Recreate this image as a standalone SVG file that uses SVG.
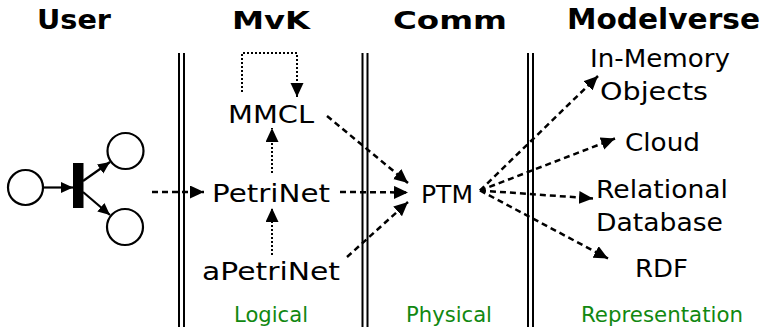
<svg xmlns="http://www.w3.org/2000/svg" width="762" height="327" viewBox="0 0 762 327">
<style>
text{font-family:"DejaVu Sans","Verdana",sans-serif;fill:#000}
.h{font-weight:bold}
.n{font-size:25px}
.g{font-size:21px;fill:#118811}
.sep{stroke:#000;stroke-width:2}
.pl{fill:#fff;stroke:#000;stroke-width:2.2}
.solid{stroke:#000;stroke-width:2.2;fill:none}
.dash{stroke:#000;stroke-width:2.5;fill:none;stroke-dasharray:6,4}
.dot{stroke:#000;stroke-width:2;fill:none;stroke-dasharray:2,2}
</style>
<defs>
<marker id="ah" markerUnits="userSpaceOnUse" markerWidth="16" markerHeight="14" refX="14" refY="6.5" orient="auto">
<path d="M0,0 L14,6.5 L0,13 z" fill="#000"/>
</marker>
<marker id="ahs" markerUnits="userSpaceOnUse" markerWidth="14" markerHeight="12" refX="12" refY="5.5" orient="auto">
<path d="M0,0 L12,5.5 L0,11 z" fill="#000"/>
</marker>
</defs>
<rect width="762" height="327" fill="#fff"/>
<g id="headers">
<text class="h" x="37" y="29" font-size="27" textLength="74" lengthAdjust="spacingAndGlyphs">User</text>
<text class="h" x="232" y="29" font-size="24" textLength="78" lengthAdjust="spacingAndGlyphs">MvK</text>
<text class="h" x="393" y="29" font-size="25" textLength="114" lengthAdjust="spacingAndGlyphs">Comm</text>
<text class="h" x="567" y="29" font-size="28" textLength="193" lengthAdjust="spacingAndGlyphs">Modelverse</text>
</g>
<g id="separators">
<line class="sep" x1="179" y1="53" x2="179" y2="327"/>
<line class="sep" x1="184" y1="53" x2="184" y2="327"/>
<line class="sep" x1="362.5" y1="53" x2="362.5" y2="327"/>
<line class="sep" x1="367.5" y1="53" x2="367.5" y2="327"/>
<line class="sep" x1="528" y1="53" x2="528" y2="327"/>
<line class="sep" x1="533" y1="53" x2="533" y2="327"/>
</g>
<g id="petrinet-icon">
<circle class="pl" cx="25.5" cy="187.5" r="17.5"/>
<circle class="pl" cx="125.5" cy="151" r="18"/>
<circle class="pl" cx="125" cy="227" r="18"/>
<rect x="73" y="163" width="10.5" height="45" fill="#000"/>
<line class="solid" x1="43" y1="187.5" x2="73" y2="187.5" marker-end="url(#ahs)"/>
<line class="solid" x1="83" y1="181" x2="110" y2="162" marker-end="url(#ahs)"/>
<line class="solid" x1="83" y1="192" x2="110" y2="215" marker-end="url(#ahs)"/>
</g>
<g id="MMCL"><text class="n" x="228" y="122.5" textLength="86" lengthAdjust="spacingAndGlyphs">MMCL</text></g>
<g id="PetriNet"><text class="n" x="212" y="202" textLength="118" lengthAdjust="spacingAndGlyphs">PetriNet</text></g>
<g id="aPetriNet"><text class="n" x="202" y="280" textLength="138" lengthAdjust="spacingAndGlyphs">aPetriNet</text></g>
<g id="PTM"><text class="n" x="421" y="203" textLength="52" lengthAdjust="spacingAndGlyphs">PTM</text></g>
<g id="InMemory">
<text class="n" x="590" y="66.5" textLength="140" lengthAdjust="spacingAndGlyphs">In-Memory</text>
<text class="n" x="600" y="99.5" textLength="108" lengthAdjust="spacingAndGlyphs">Objects</text>
</g>
<g id="Cloud"><text class="n" x="625" y="150.5" textLength="75" lengthAdjust="spacingAndGlyphs">Cloud</text></g>
<g id="RelationalDatabase">
<text class="n" x="596" y="197.5" textLength="132" lengthAdjust="spacingAndGlyphs">Relational</text>
<text class="n" x="596" y="231" textLength="127" lengthAdjust="spacingAndGlyphs">Database</text>
</g>
<g id="RDF"><text class="n" x="635" y="276.5" textLength="53" lengthAdjust="spacingAndGlyphs">RDF</text></g>
<g id="labels">
<text class="g" x="234" y="322" textLength="74" lengthAdjust="spacingAndGlyphs">Logical</text>
<text class="g" x="406" y="322" textLength="86" lengthAdjust="spacingAndGlyphs">Physical</text>
<text class="g" x="581" y="322" textLength="162" lengthAdjust="spacingAndGlyphs">Representation</text>
</g>
<g id="connectors">
<path class="dot" d="M242,92 V53 H297 V97" marker-end="url(#ah)"/>
<line class="dot" x1="272" y1="173" x2="272" y2="128" marker-end="url(#ah)"/>
<line class="dot" x1="272" y1="255" x2="272" y2="208" marker-end="url(#ah)"/>
<line class="dash" x1="152" y1="192" x2="204" y2="192" marker-end="url(#ah)"/>
<line class="dash" x1="327" y1="116" x2="408" y2="183" marker-end="url(#ah)"/>
<line class="dash" x1="340" y1="192" x2="408" y2="192.5" marker-end="url(#ah)"/>
<line class="dash" x1="347" y1="257" x2="408" y2="202" marker-end="url(#ah)"/>
<line class="dash" x1="480" y1="190.5" x2="598" y2="76" marker-end="url(#ah)"/>
<line class="dash" x1="480" y1="190.5" x2="615" y2="138.5" marker-end="url(#ah)"/>
<line class="dash" x1="480" y1="190.5" x2="593" y2="198.5" marker-end="url(#ah)"/>
<line class="dash" x1="480" y1="190.5" x2="608" y2="258.5" marker-end="url(#ah)"/>
</g>
</svg>
